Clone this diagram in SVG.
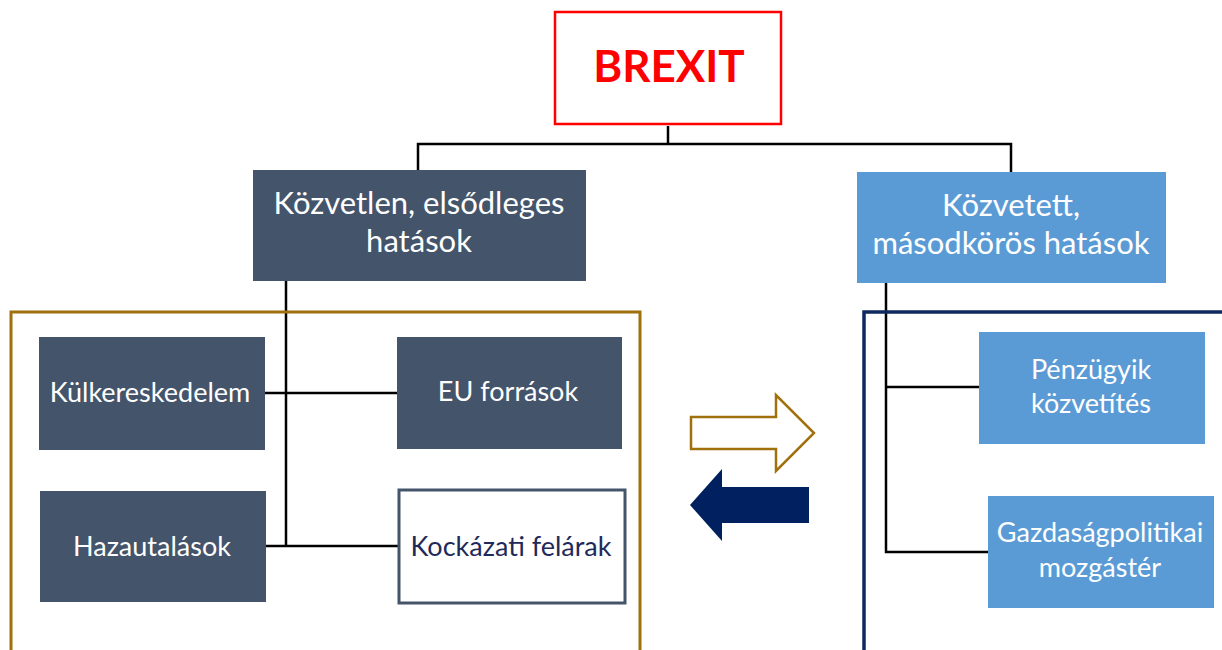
<svg xmlns="http://www.w3.org/2000/svg" width="1222" height="650" viewBox="0 0 1222 650">
<style>
.t{font-family:Lato,"Open Sans","Liberation Sans",sans-serif;text-anchor:middle}
.w{fill:#ffffff}
.dk{fill:#44546a}
.lt{fill:#5b9bd5}
.ln{fill:none;stroke:#000;stroke-width:2.5}
.b{font-size:31px}
.s{font-size:27px}
</style>
<rect width="1222" height="650" fill="#fff"/>
<g id="connectors">
<path class="ln" d="M668 126V144M418 170V144H1011V172"/>
<path class="ln" d="M286 280V547M264 393H397M265 546H398"/>
<path class="ln" d="M886 282V552H988M886 387H979"/>
</g>
<g id="frame-left"><rect x="11" y="312" width="629" height="345" fill="none" stroke="#a0700c" stroke-width="3"/></g>
<g id="frame-right"><rect x="864" y="312" width="370" height="345" fill="none" stroke="#0e2a5e" stroke-width="3.5"/></g>
<g id="brexit"><rect x="555" y="12" width="226" height="112" fill="#fff" stroke="#ff0000" stroke-width="2.5"/>
<text class="t" x="669" y="82" font-size="44" font-weight="bold" fill="#ff0000">BREXIT</text></g>
<g id="kozvetlen"><rect class="dk" x="253" y="170" width="333" height="111"/>
<text class="t w b" x="419" y="214">Közvetlen, elsődleges</text>
<text class="t w b" x="419" y="252">hatások</text></g>
<g id="kozvetett"><rect class="lt" x="857" y="172" width="309" height="111"/>
<text class="t w b" x="1011" y="216">Közvetett,</text>
<text class="t w b" x="1011" y="254">másodkörös hatások</text></g>
<g id="kulker"><rect class="dk" x="39" y="337" width="226" height="113"/>
<text class="t w s" x="150" y="402">Külkereskedelem</text></g>
<g id="eu"><rect class="dk" x="397" y="337" width="225" height="112"/>
<text class="t w s" x="508" y="401">EU források</text></g>
<g id="hazautal"><rect class="dk" x="40" y="491" width="226" height="111"/>
<text class="t w s" x="152" y="556">Hazautalások</text></g>
<g id="kockazati"><rect x="399" y="490" width="226" height="113" fill="#fff" stroke="#44546a" stroke-width="3"/>
<text class="t s" x="511" y="556" fill="#1f2a5a">Kockázati felárak</text></g>
<g id="penzugyi"><rect class="lt" x="979" y="332" width="226" height="112"/>
<text class="t w s" x="1091" y="379">Pénzügyik</text>
<text class="t w s" x="1091" y="413">közvetítés</text></g>
<g id="gazdpol"><rect class="lt" x="988" y="496" width="226" height="112"/>
<text class="t w s" x="1100" y="542">Gazdaságpolitikai</text>
<text class="t w s" x="1100" y="577">mozgástér</text></g>
<g id="arrows">
<polygon points="691,417 776,417 776,395 814,433 776,471 776,449 691,449" fill="#fff" stroke="#a0700c" stroke-width="2.5"/>
<polygon points="809,487 722,487 722,469 690,505 722,541 722,523 809,523" fill="#002060"/>
</g>
</svg>
